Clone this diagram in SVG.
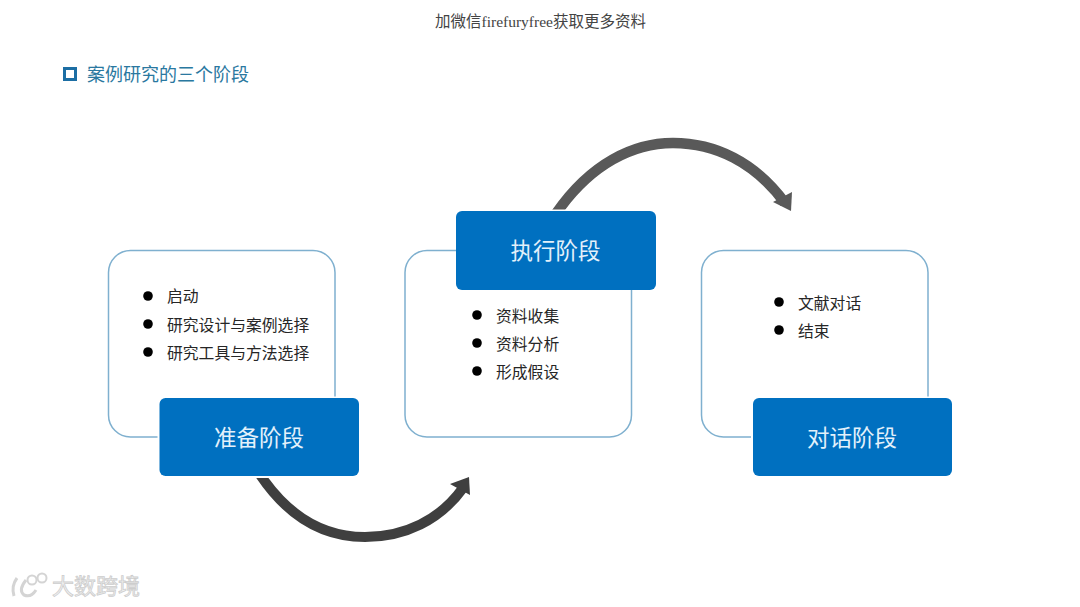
<svg xmlns="http://www.w3.org/2000/svg" width="1080" height="607" viewBox="0 0 1080 607">
<style>
text{font-family:"Liberation Sans","Noto Sans CJK SC",sans-serif}
.card{fill:#fff;stroke:#7fb0cf;stroke-width:1.5}
.head{fill:#0070c0}
.hl{fill:#e3f1fb;font-size:22.5px;text-anchor:middle}
.it{fill:#262626;font-size:15.800px}
.dot{fill:#000}
</style>
<defs>
<clipPath id="c1"><rect x="240" y="478" width="240" height="70"/></clipPath>
<clipPath id="c2"><rect x="540" y="130" width="260" height="79.500"/></clipPath>
</defs>
<rect width="1080" height="607" fill="#fff"/>
<text x="540.500" y="27" text-anchor="middle" font-size="15.500" fill="#444" style="font-family:'Liberation Serif','Noto Sans CJK SC',serif">加微信firefuryfree获取更多资料</text>
<g id="title">
<rect x="64.500" y="68.500" width="11" height="11" fill="none" stroke="#1c6ea4" stroke-width="3"/>
<text x="87" y="81" font-size="18" fill="#2a78a0">案例研究的三个阶段</text>
</g>
<g id="connectors">
<path clip-path="url(#c1)" d="M257 470C290 522 330 537 365 537C405 537 440 520 463 488" fill="none" stroke="#3f3f3f" stroke-width="10"/>
<polygon points="450,484 469,477 470,495" fill="#3f3f3f"/>
<path clip-path="url(#c2)" d="M553 218C590 162 635 143 673 143C715 143 755 162 785 203" fill="none" stroke="#595959" stroke-width="10.500"/>
<polygon points="773,202 792,192 791,211" fill="#595959"/>
</g>
<g id="node-prepare">
<rect class="card" x="108.500" y="250.500" width="226.500" height="186.500" rx="22"/>
<circle class="dot" cx="148" cy="296" r="4.800"/><text class="it" x="167" y="302">启动</text>
<circle class="dot" cx="148" cy="324" r="4.800"/><text class="it" x="167" y="330.500">研究设计与案例选择</text>
<circle class="dot" cx="148" cy="352" r="4.800"/><text class="it" x="167" y="358.500">研究工具与方法选择</text>
<rect x="157.500" y="396.500" width="203" height="81" fill="#fff"/>
<rect class="head" x="159.500" y="398" width="199.500" height="78" rx="6"/>
<text class="hl" x="259" y="445.500">准备阶段</text>
</g>
<g id="node-execute">
<rect class="card" x="405" y="250.500" width="226.500" height="186.500" rx="22"/>
<rect class="head" x="456" y="211" width="200" height="79" rx="6"/>
<text class="hl" x="555.500" y="258.500">执行阶段</text>
<circle class="dot" cx="477" cy="315" r="4.800"/><text class="it" x="496" y="321.500">资料收集</text>
<circle class="dot" cx="477" cy="343" r="4.800"/><text class="it" x="496" y="349.500">资料分析</text>
<circle class="dot" cx="477" cy="371" r="4.800"/><text class="it" x="496" y="377.500">形成假设</text>
</g>
<g id="node-dialogue">
<rect class="card" x="701.500" y="250.500" width="226.500" height="186.500" rx="22"/>
<circle class="dot" cx="779" cy="302" r="4.800"/><text class="it" x="798" y="308.500">文献对话</text>
<circle class="dot" cx="779" cy="330" r="4.800"/><text class="it" x="798" y="336.500">结束</text>
<rect x="751" y="396.500" width="203" height="81" fill="#fff"/>
<rect class="head" x="753" y="398" width="199" height="78" rx="6"/>
<text class="hl" x="852" y="445.500">对话阶段</text>
</g>
<g id="watermark" fill="none" stroke="#d4d4d4" stroke-width="3">
<path d="M17 578Q11 586 14 596M26 580Q18 590 24 595Q31 598 36 590"/>
<circle cx="32" cy="580" r="4.500" stroke-width="2"/><circle cx="42" cy="578" r="4.500" stroke-width="2"/>
<text x="52" y="594" font-size="22" fill="#f2f2f2" stroke="#cdcdcd" stroke-width="0.800">大数跨境</text>
</g>
</svg>
